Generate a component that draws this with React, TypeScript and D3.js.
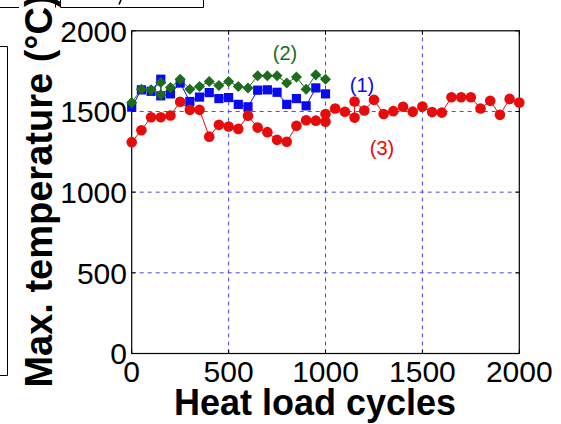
import React from "react";
import * as d3 from "d3";

const xTicks = [0, 500, 1000, 1500, 2000];
const yTicks = [0, 500, 1000, 1500, 2000];

const cyclesA = [0, 50, 100, 150, 150, 200, 250, 300, 350, 400, 450, 500, 550, 600, 650, 700, 750, 800, 850, 900, 950, 1000];
const series1 = [1527, 1634, 1625, 1700, 1597, 1609, 1676, 1562, 1589, 1617, 1580, 1586, 1544, 1529, 1632, 1634, 1619, 1544, 1580, 1535, 1646, 1609];
const series2 = [1555, 1638, 1634, 1679, 1603, 1648, 1700, 1638, 1655, 1686, 1661, 1686, 1655, 1645, 1721, 1721, 1721, 1676, 1713, 1638, 1727, 1700];

const cyclesB = [0, 50, 100, 150, 200, 250, 300, 350, 400, 450, 500, 550, 600, 650, 700, 750, 800, 850, 900, 950, 1000, 1000, 1050, 1100, 1150, 1150, 1200, 1250, 1300, 1350, 1400, 1450, 1500, 1550, 1600, 1650, 1700, 1750, 1800, 1850, 1900, 1950, 2000];
const series3 = [1310, 1384, 1464, 1464, 1475, 1560, 1510, 1510, 1344, 1417, 1407, 1392, 1474, 1400, 1372, 1324, 1312, 1411, 1446, 1443, 1437, 1484, 1518, 1498, 1462, 1562, 1506, 1572, 1484, 1502, 1529, 1499, 1531, 1496, 1493, 1588, 1588, 1588, 1518, 1566, 1479, 1578, 1555];

const FONT = "'Liberation Sans', Arial, Helvetica, sans-serif";
const BLUE = "#0a0aee";
const GREEN = "#1d6b1d";
const RED = "#e60c0c";
const GRID = "#4646f0";

export default function App() {
  const x = d3.scaleLinear().domain([0, 2000]).range([131.7, 519.3]);
  const y = d3.scaleLinear().domain([0, 2000]).range([353.5, 30.8]);
  const line = (xs: number[], ys: number[]) =>
    d3.line<number>().x((_, i) => x(xs[i])).y((d) => y(d))(ys) || "";
  const x0 = x(0), x1 = x(2000), y0 = y(0), y1 = y(2000);
  const diamond = d3.symbol().type(d3.symbolDiamond2).size(78)() || "";

  return (
    <svg width={561} height={424} style={{ position: "absolute", left: 0, top: 0, background: "#fff" }} fontFamily={FONT}>
      <rect x={0} y={0} width={561} height={424} fill="#fff" />
      {/* cropped neighbouring panel remnants */}
      <path d="M0,7.5H19M55.5,0V7.5M60.5,0V7.5H203.5V0" fill="none" stroke="#000" strokeWidth={1} />
      <path d="M121,0 L119,4.5" fill="none" stroke="#000" strokeWidth={1.6} />
      <path d="M0,46.5H7.5V375.5H0" fill="none" stroke="#000" strokeWidth={1} />

      {/* grid */}
      {xTicks.filter((t) => t > 0 && t < 2000).map((t) => (
        <line key={"gx" + t} x1={x(t)} x2={x(t)} y1={y0} y2={y1} stroke={GRID} strokeWidth={1} strokeDasharray="4 4" />
      ))}
      {yTicks.filter((t) => t > 0 && t < 2000).map((t) => (
        <line key={"gy" + t} x1={x0} x2={x1} y1={y(t)} y2={y(t)} stroke={GRID} strokeWidth={1} strokeDasharray="4 4" />
      ))}
      {/* frame */}
      <rect x={x0} y={y1} width={x1 - x0} height={y0 - y1} fill="none" stroke="#000" strokeWidth={1.2} />
      {xTicks.map((t) => (
        <g key={"tx" + t}>
          <line x1={x(t)} x2={x(t)} y1={y0} y2={y0 - 4} stroke="#000" />
          <line x1={x(t)} x2={x(t)} y1={y1} y2={y1 + 4} stroke="#000" />
        </g>
      ))}
      {yTicks.map((t) => (
        <g key={"ty" + t}>
          <line x1={x0} x2={x0 + 4} y1={y(t)} y2={y(t)} stroke="#000" />
          <line x1={x1} x2={x1 - 4} y1={y(t)} y2={y(t)} stroke="#000" />
        </g>
      ))}

      {/* series 1 */}
      <path d={line(cyclesA, series1)} fill="none" stroke={BLUE} strokeWidth={1} />
      {series1.map((v, i) => (
        <rect key={"b" + i} x={x(cyclesA[i]) - 4.6} y={y(v) - 4.6} width={9.2} height={9.2} fill={BLUE} />
      ))}
      {/* series 2 */}
      <path d={line(cyclesA, series2)} fill="none" stroke={GREEN} strokeWidth={1} />
      {series2.map((v, i) => (
        <path key={"g" + i} d={diamond} transform={`translate(${x(cyclesA[i])},${y(v)})`} fill={GREEN} />
      ))}
      {/* series 3 */}
      <path d={line(cyclesB, series3)} fill="none" stroke={RED} strokeWidth={1} />
      {series3.map((v, i) => (
        <circle key={"r" + i} cx={x(cyclesB[i])} cy={y(v)} r={5.3} fill={RED} />
      ))}

      {/* series labels */}
      <text x={285} y={60} fill={GREEN} fontSize={20} textAnchor="middle">(2)</text>
      <text x={362} y={92} fill={BLUE} fontSize={20} textAnchor="middle">(1)</text>
      <text x={382} y={155} fill={RED} fontSize={20} textAnchor="middle">(3)</text>

      {/* tick labels */}
      {yTicks.map((t) => (
        <text key={"ly" + t} x={127} y={y(t)} dy="0.36em" fontSize={30} textAnchor="end" fill="#000">{t}</text>
      ))}
      {xTicks.map((t) => (
        <text key={"lx" + t} x={x(t)} y={382} fontSize={30} textAnchor="middle" fill="#000">{t}</text>
      ))}

      {/* axis titles */}
      <text x={315} y={415} fontSize={36} fontWeight="bold" textAnchor="middle" fill="#000">Heat load cycles</text>
      <text transform="translate(52,191) rotate(-90)" fontSize={38} fontWeight="bold" textAnchor="middle" fill="#000">Max. temperature (°C)</text>
    </svg>
  );
}
